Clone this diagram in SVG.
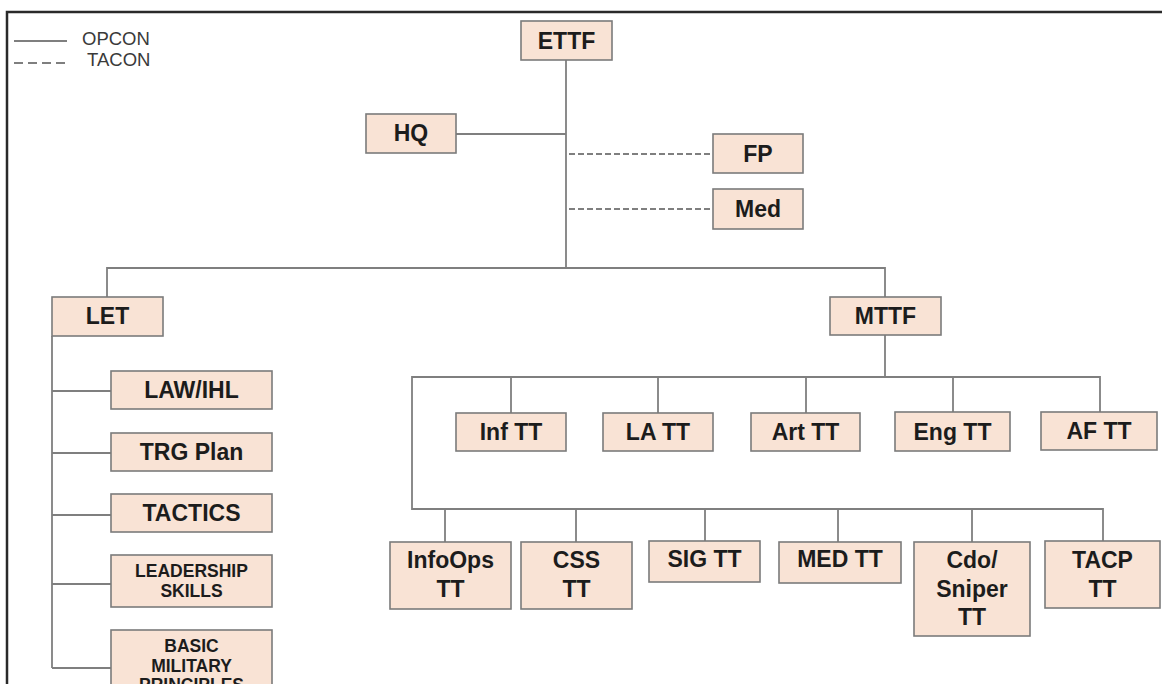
<svg xmlns="http://www.w3.org/2000/svg" width="1162" height="684" viewBox="0 0 1162 684">
  <style>
    .box { fill: #f9e3d5; stroke: #7b7b7b; stroke-width: 1.6; }
    .lbl { font-family: "Liberation Sans", Arial, sans-serif; font-weight: bold; font-size: 23px; fill: #1c1c1c; text-anchor: middle; }
    .sm { font-size: 17.5px; }
    .wire { fill: none; stroke: #7f7f7f; stroke-width: 1.8; }
    .dash { stroke-dasharray: 6 3; }
    .legend { font-family: "Liberation Sans", Arial, sans-serif; font-size: 18.5px; fill: #3a3a3a; }
  </style>
  <rect width="1162" height="684" fill="#ffffff"/>
  <!-- frame -->
  <path d="M7,684 V12 H1162" fill="none" stroke="#2a2a2a" stroke-width="2.5"/>

  <!-- legend -->
  <g id="legend">
    <line x1="14" y1="41" x2="67" y2="41" class="wire" stroke-width="1.2"/>
    <line x1="14" y1="63" x2="67" y2="63" class="wire" stroke-width="1.2" stroke-dasharray="9 5"/>
    <text x="82" y="45" class="legend">OPCON</text>
    <text x="87" y="66" class="legend">TACON</text>
  </g>

  <!-- connectors -->
  <g id="connectors">
    <path class="wire" d="M566,60 V268"/>
    <path class="wire" d="M456,134 H566"/>
    <path class="wire dash" d="M569,154 H713"/>
    <path class="wire dash" d="M569,209 H713"/>
    <path class="wire" d="M107,297 V268 H885 V297"/>
    <!-- LET branch -->
    <path class="wire" d="M52,336 V668"/>
    <path class="wire" d="M52,391 H111 M52,453 H111 M52,515 H111 M52,584 H111 M52,668 H111"/>
    <!-- MTTF branch -->
    <path class="wire" d="M885,335 V377"/>
    <path class="wire" d="M1100,413 V377 H412 V509 H1103 V541"/>
    <path class="wire" d="M511,377 V413 M658,377 V413 M806,377 V413 M953,377 V412"/>
    <path class="wire" d="M445,509 V542 M576,509 V542 M705,509 V541 M838,509 V542 M972,509 V542"/>
  </g>

  <g id="ETTF"><rect class="box" x="521" y="21" width="91" height="39"/><text class="lbl" x="566.5" y="48.5">ETTF</text></g>
  <g id="HQ"><rect class="box" x="366" y="114" width="90" height="39"/><text class="lbl" x="411" y="141">HQ</text></g>
  <g id="FP"><rect class="box" x="713" y="134" width="90" height="39"/><text class="lbl" x="758" y="161.5">FP</text></g>
  <g id="Med"><rect class="box" x="713" y="189" width="90" height="40"/><text class="lbl" x="758" y="217">Med</text></g>

  <g id="LET"><rect class="box" x="52" y="297" width="111" height="39"/><text class="lbl" x="107.5" y="324">LET</text></g>
  <g id="LAW-IHL"><rect class="box" x="111" y="371" width="161" height="38"/><text class="lbl" x="191.5" y="398">LAW/IHL</text></g>
  <g id="TRG-Plan"><rect class="box" x="111" y="433" width="161" height="38"/><text class="lbl" x="191.5" y="460">TRG Plan</text></g>
  <g id="TACTICS"><rect class="box" x="111" y="494" width="161" height="38"/><text class="lbl" x="191.5" y="521">TACTICS</text></g>
  <g id="LEADERSHIP-SKILLS"><rect class="box" x="111" y="555" width="161" height="52"/><text class="lbl sm" x="191.5" y="577">LEADERSHIP</text><text class="lbl sm" x="191.5" y="597">SKILLS</text></g>
  <g id="BASIC-MILITARY-PRINCIPLES"><rect class="box" x="111" y="630" width="161" height="75"/><text class="lbl sm" x="191.5" y="652">BASIC</text><text class="lbl sm" x="191.5" y="671.5">MILITARY</text><text class="lbl sm" x="191.5" y="691">PRINCIPLES</text></g>

  <g id="MTTF"><rect class="box" x="830" y="297" width="111" height="38"/><text class="lbl" x="885.5" y="323.5">MTTF</text></g>

  <g id="Inf-TT"><rect class="box" x="456" y="413" width="110" height="38"/><text class="lbl" x="511" y="440">Inf TT</text></g>
  <g id="LA-TT"><rect class="box" x="603" y="413" width="110" height="38"/><text class="lbl" x="658" y="440">LA TT</text></g>
  <g id="Art-TT"><rect class="box" x="751" y="413" width="109" height="38"/><text class="lbl" x="805.5" y="440">Art TT</text></g>
  <g id="Eng-TT"><rect class="box" x="895" y="412" width="115" height="39"/><text class="lbl" x="952.5" y="440">Eng TT</text></g>
  <g id="AF-TT"><rect class="box" x="1041" y="412" width="116" height="38"/><text class="lbl" x="1099" y="439">AF TT</text></g>

  <g id="InfoOps-TT"><rect class="box" x="390" y="542" width="121" height="67"/><text class="lbl" x="450.5" y="568">InfoOps</text><text class="lbl" x="450.5" y="597">TT</text></g>
  <g id="CSS-TT"><rect class="box" x="521" y="542" width="111" height="67"/><text class="lbl" x="576.5" y="568">CSS</text><text class="lbl" x="576.5" y="597">TT</text></g>
  <g id="SIG-TT"><rect class="box" x="649" y="541" width="111" height="41"/><text class="lbl" x="704.5" y="567">SIG TT</text></g>
  <g id="MED-TT"><rect class="box" x="779" y="542" width="122" height="41"/><text class="lbl" x="840" y="567">MED TT</text></g>
  <g id="Cdo-Sniper-TT"><rect class="box" x="914" y="542" width="116" height="94"/><text class="lbl" x="972" y="568">Cdo/</text><text class="lbl" x="972" y="597">Sniper</text><text class="lbl" x="972" y="625">TT</text></g>
  <g id="TACP-TT"><rect class="box" x="1045" y="541" width="115" height="67"/><text class="lbl" x="1102.5" y="568">TACP</text><text class="lbl" x="1102.5" y="597">TT</text></g>
</svg>
